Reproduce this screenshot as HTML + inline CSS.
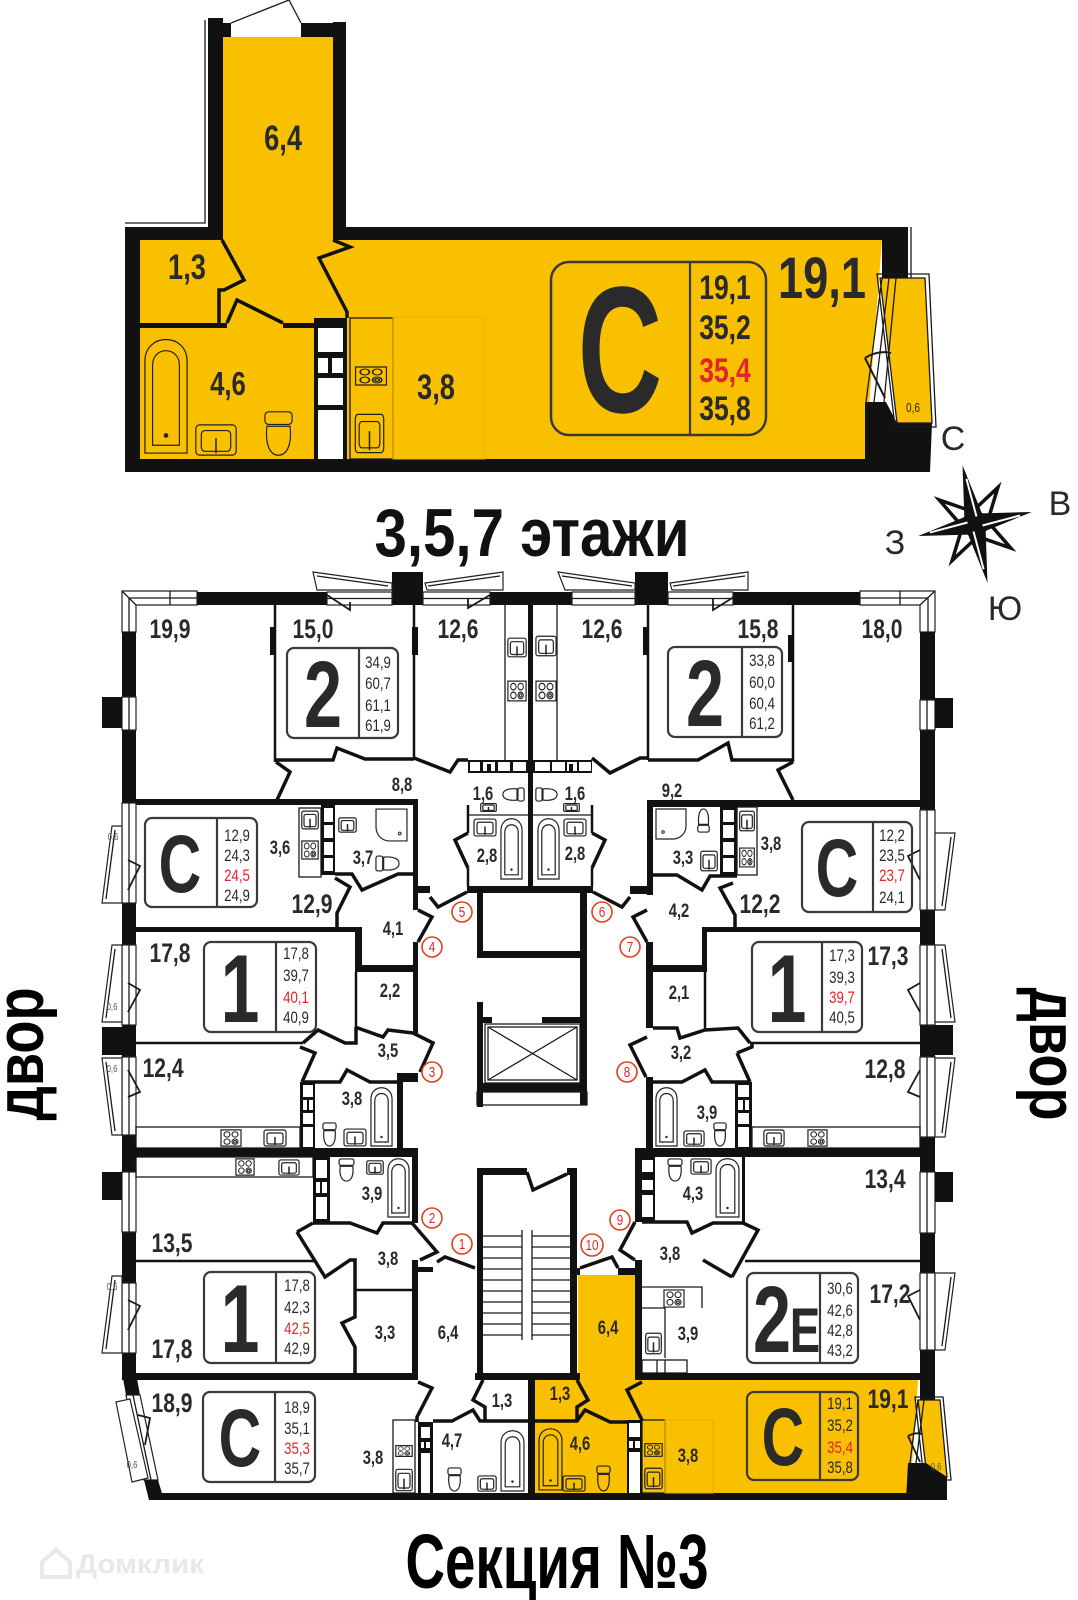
<!DOCTYPE html>
<html><head><meta charset="utf-8">
<style>
html,body{margin:0;padding:0;background:#fff}
svg{display:block}
text{font-family:"Liberation Sans",sans-serif;fill:#2a2a2a;text-anchor:middle;transform-box:fill-box;transform-origin:center;transform:scaleX(.78)}
text.n{transform:none}
.b{font-weight:bold}
text.rd{fill:#e4232b}
.k{fill:#111}
.wh{fill:#fff}
.ln{fill:none;stroke:#1a1a1a;stroke-width:1.3}
.t2{fill:none;stroke:#111;stroke-width:2.5}
.th{fill:none;stroke:#111;stroke-width:3.5;stroke-linejoin:miter}
.y{fill:#f9c000}
.bx{fill:none;stroke:#3a3a3a;stroke-width:2.2}
.c{fill:#fff;stroke:#e0401f;stroke-width:1.6}
.bs{font-size:17px}
.bg{font-size:27px;font-weight:bold}
.sm{font-size:19px;font-weight:bold}
text.cn{fill:#e4232b;font-size:15px}
.wf{fill:#fff;stroke:#222;stroke-width:1.2}
text.z{font-size:10px;fill:#555}
</style></head><body>
<svg width="1078" height="1600" viewBox="0 0 1078 1600" xmlns="http://www.w3.org/2000/svg">
<defs>
<symbol id="tub" viewBox="0 0 24 60" preserveAspectRatio="none"><path d="M1,59V12C1,-3 23,-3 23,12V59Z M5,55V14C5,4 19,4 19,14V55Z" fill="none" stroke="#222" stroke-width="1.2" vector-effect="non-scaling-stroke"/><circle cx="12" cy="50" r="1.2" fill="#222"/></symbol>
<symbol id="snk" viewBox="0 0 24 18" preserveAspectRatio="none"><rect x="1" y="1" width="22" height="16" rx="2" fill="none" stroke="#222" stroke-width="1.2" vector-effect="non-scaling-stroke"/><rect x="4" y="4" width="16" height="11" rx="2" fill="none" stroke="#222" stroke-width="1.2" vector-effect="non-scaling-stroke"/><path d="M12,8V16" stroke="#222" stroke-width="1.5" vector-effect="non-scaling-stroke"/></symbol>
<symbol id="wc" viewBox="0 0 16 26" preserveAspectRatio="none"><rect x="1" y="1" width="14" height="7" rx="2" fill="none" stroke="#222" stroke-width="1.2" vector-effect="non-scaling-stroke"/><path d="M2,9C1,20 4,25 8,25C12,25 15,20 14,9Z" fill="none" stroke="#222" stroke-width="1.2" vector-effect="non-scaling-stroke"/></symbol>
<symbol id="stv" viewBox="0 0 22 20" preserveAspectRatio="none"><rect x="1" y="1" width="20" height="18" fill="none" stroke="#222" stroke-width="1.2" vector-effect="non-scaling-stroke"/><g fill="none" stroke="#222" stroke-width="1.1" vector-effect="non-scaling-stroke"><circle cx="7" cy="6" r="3"/><circle cx="15" cy="6" r="3"/><circle cx="7" cy="14" r="3"/><circle cx="15" cy="14" r="3"/><circle cx="15" cy="14" r="1.4"/></g></symbol>
<symbol id="shw" viewBox="0 0 32 32" preserveAspectRatio="none"><path d="M1,1H31V18A13,13 0 0 1 18,31H1Z" fill="none" stroke="#222" stroke-width="1.2" vector-effect="non-scaling-stroke"/><circle cx="8" cy="24" r="1.3" fill="none" stroke="#222"/></symbol>
</defs>

<!-- ================= TOP APARTMENT ================= -->
<path class="y" d="M223,37H333V240H882L865,459H140V240H223Z"/>
<polygon class="y" points="880,278 925,278 932,423 897,423"/>
<rect class="k" x="208" y="18" width="15" height="222"/>
<rect class="k" x="223" y="23" width="8" height="14"/>
<rect class="k" x="301" y="23" width="32" height="14"/>
<rect class="k" x="333" y="22" width="13" height="218"/>
<path class="ln" d="M205,20V223H125"/>
<rect class="k" x="125" y="227" width="98" height="13"/>
<rect class="k" x="346" y="227" width="562" height="13"/>
<rect class="k" x="882" y="240" width="26" height="38"/>
<path class="ln" d="M911,227V278"/>
<rect class="k" x="125" y="227" width="15" height="245"/>
<rect class="k" x="125" y="459" width="805" height="13"/>
<polygon class="k" points="865,402 886,402 897,423 932,423 930,472 865,472"/>
<path class="ln" d="M882,278L866,402M889,278L874,402M896,278L884,402"/>
<polygon class="ln" points="880,278 925,278 932,423 897,423"/>
<polygon class="ln" points="877,274 929,274 936,427 895,427"/>
<path class="ln" style="stroke-width:2" d="M865,358L885,398M865,358Q878,350 891,353"/>
<path class="ln" d="M231,23L289,0L301,23"/>
<path class="th" d="M222,240L244,280L224,290H219V323"/>
<rect class="k" x="140" y="323" width="87" height="5"/>
<path class="th" d="M227,323L237,300L283,323"/>
<rect class="k" x="283" y="323" width="31" height="5"/>
<path class="th" d="M333,240L350,247L319,258L347,312V318"/>
<rect class="k" x="314" y="318" width="33" height="141"/>
<rect class="wh" x="318" y="328" width="25" height="24"/>
<rect class="wh" x="318" y="358" width="10" height="15"/>
<rect class="wh" x="332" y="358" width="11" height="15"/>
<rect class="wh" x="318" y="378" width="25" height="27"/>
<rect class="wh" x="318" y="410" width="25" height="49"/>
<rect class="ln" x="350" y="318" width="43" height="141"/>
<rect x="393" y="317" width="92" height="142" fill="none" stroke="#e6b400" stroke-width="1"/>
<use href="#stv" x="354" y="366" width="34" height="20"/>
<use href="#snk" x="354" y="412" width="31" height="43"/>
<use href="#tub" x="143" y="338" width="46" height="117"/>
<use href="#snk" x="194" y="423" width="44" height="34"/>
<use href="#wc" x="263" y="410" width="31" height="47"/>
<rect class="bx" x="551" y="262" width="215" height="173" rx="18" style="stroke-width:2.5"/>
<line x1="690" y1="262" x2="690" y2="435" stroke="#3a3a3a" stroke-width="2.2"/>
<text class="b" x="283" y="150" font-size="35">6,4</text>
<text class="b" x="187" y="279" font-size="35">1,3</text>
<text class="b" x="228" y="395" font-size="33">4,6</text>
<text class="b" x="436" y="399" font-size="35">3,8</text>
<text class="b" x="822" y="298" font-size="58">19,1</text>
<text class="b" x="620" y="412" font-size="180" style="transform:scaleX(.65)">С</text>
<text class="b" x="725" y="299" font-size="34">19,1</text>
<text class="b" x="725" y="339" font-size="34">35,2</text>
<text class="b rd" x="725" y="382" font-size="34">35,4</text>
<text class="b" x="725" y="420" font-size="34">35,8</text>
<text x="913" y="412" font-size="13">0,6</text>

<!-- ================= COMPASS & TITLE ================= -->
<g transform="translate(975,524) rotate(-12)">
  <g fill="#fff" stroke="#111" stroke-width="3.5" stroke-linejoin="miter">
    <polygon points="2,-14 30,-31 14,-2"/>
    <polygon points="14,2 30,31 2,14"/>
    <polygon points="-2,14 -30,31 -14,2"/>
    <polygon points="-14,-2 -30,-31 -2,-14"/>
  </g>
  <path d="M0,-60L9,-9L58,0L9,9L0,60L-9,9L-58,0L-9,-9Z" fill="#111"/>
  <path d="M1,-46L3,-7M46,1L7,3M-1,46L-3,7M-46,-1L-7,-3" stroke="#fff" stroke-width="2"/>
</g>
<text class="n" x="953" y="450" font-size="34">С</text>
<text class="n" x="1060" y="515" font-size="34">В</text>
<text class="n" x="895" y="554" font-size="34">З</text>
<text class="n" x="1005" y="620" font-size="34">Ю</text>
<text class="b n" x="532" y="556" font-size="68" textLength="315" lengthAdjust="spacingAndGlyphs" style="fill:#111">3,5,7 этажи</text>

<!-- ================= MAIN PLAN ================= -->
<path class="y" d="M578,1275H635V1380H918L910,1493H535V1380H578Z"/>
<polygon class="y" points="918,1400 940,1400 947,1477 927,1477"/>

<rect class="k" x="197" y="592" width="130" height="13"/>
<rect class="k" x="392" y="572" width="31" height="33"/>
<rect class="k" x="490" y="592" width="82" height="13"/>
<rect class="k" x="635" y="572" width="33" height="33"/>
<rect class="k" x="733" y="592" width="127" height="13"/>
<g class="wf">
<rect x="327" y="592" width="65" height="13"/><rect x="423" y="592" width="67" height="13"/>
<rect x="572" y="592" width="63" height="13"/><rect x="668" y="592" width="65" height="13"/>
</g>
<path class="ln" d="M327,598.5H392M423,598.5H490M572,598.5H635M668,598.5H733"/>
<g class="wf">
<polygon points="313,572 392,583 392,590 317,590"/>
<polygon points="425,583 503,572 503,590 427,590"/>
<polygon points="558,572 635,583 635,590 565,590"/>
<polygon points="670,583 748,572 748,590 672,590"/>
</g>
<path class="ln" d="M317,576L388,586M428,586L500,576M562,576L632,586M673,586L745,576"/>
<path class="ln" style="stroke-width:1.8" d="M327,595L350,610V602M490,595L468,608V598M737,595L713,610V598"/>
<path class="wf" d="M122,632V591H197V605H136V632Z"/>
<path class="ln" d="M129,632V598H197M122,591L136,605M170,591V605"/>
<path class="wf" d="M860,591H935V632H920V605H860Z"/>
<path class="ln" d="M860,598H928V632M935,591L920,605M900,591V605"/>

<rect class="k" x="122" y="632" width="14" height="748"/>
<g class="wf">
<rect x="122" y="697" width="14" height="33"/><rect x="122" y="803" width="14" height="100"/>
<rect x="122" y="945" width="14" height="80"/><rect x="122" y="1057" width="14" height="78"/>
<rect x="122" y="1172" width="14" height="60"/><rect x="122" y="1283" width="14" height="70"/>
</g>
<path class="ln" d="M129,697V730M129,803V903M129,945V1025M129,1057V1135M129,1172V1232M129,1283V1353"/>
<rect class="k" x="102" y="697" width="20" height="31"/>
<rect class="k" x="102" y="1027" width="20" height="28"/>
<rect class="k" x="102" y="1172" width="20" height="28"/>
<g class="wf">
<polygon points="112,826 122,826 122,903 102,903"/>
<polygon points="112,945 122,945 122,1022 102,1022"/>
<polygon points="102,1058 122,1058 122,1135 112,1135"/>
<polygon points="112,1276 122,1276 122,1353 102,1353"/>
</g>
<path class="ln" d="M115,830L106,899M115,949L106,1018M106,1062L115,1131M115,1280L106,1349"/>
<text class="z" x="113" y="840">0,6</text><text class="z" x="112" y="1010">0,6</text>
<text class="z" x="112" y="1072">0,6</text><text class="z" x="112" y="1290">0,6</text>
<path class="ln" style="stroke-width:1.8" d="M128,860L140,866L128,890M128,983L140,990L128,1012M128,1070L140,1092L128,1097M128,1300L140,1306L128,1330"/>
<polygon class="k" points="122,1373 136,1373 140,1395 126,1395"/>
<polygon class="wf" points="126,1395 140,1395 158,1480 144,1480"/>
<path class="ln" d="M133,1395L151,1480"/>
<polygon class="k" points="144,1480 158,1480 164,1500 149,1500"/>
<polygon class="wf" points="116,1402 130,1399 148,1478 132,1482"/>
<text class="z" x="132" y="1468">0,6</text>
<path class="ln" style="stroke-width:1.8" d="M138,1415L150,1418L145,1445"/>

<rect class="k" x="920" y="632" width="15" height="768"/>
<g class="wf">
<rect x="920" y="700" width="15" height="30"/><rect x="920" y="810" width="15" height="100"/>
<rect x="920" y="945" width="15" height="80"/><rect x="920" y="1057" width="15" height="80"/>
<rect x="920" y="1172" width="15" height="61"/><rect x="920" y="1273" width="15" height="77"/>
</g>
<path class="ln" d="M927,700V730M927,810V910M927,945V1025M927,1057V1137M927,1172V1233M927,1273V1350"/>
<rect class="k" x="935" y="698" width="18" height="30"/>
<rect class="k" x="935" y="1025" width="18" height="30"/>
<rect class="k" x="935" y="1172" width="18" height="30"/>
<g class="wf">
<polygon points="935,833 955,833 945,910 935,910"/>
<polygon points="935,945 945,945 955,1022 935,1022"/>
<polygon points="935,1058 955,1058 945,1137 935,1137"/>
<polygon points="935,1273 955,1273 945,1350 935,1350"/>
</g>
<path class="ln" d="M951,837L942,906M942,949L951,1018M951,1062L942,1133M951,1277L942,1346"/>
<path class="ln" style="stroke-width:1.8" d="M920,850L908,856L920,880M920,983L908,990L920,1012M920,1070L908,1092L920,1097M920,1290L908,1296L920,1320"/>
<path class="ln" d="M918,1400L910,1463M924,1400L916,1463"/>
<polygon class="ln" points="918,1400 940,1400 947,1477 927,1477"/>
<polygon class="ln" points="915,1397 943,1397 951,1480 924,1480"/>
<polygon class="k" points="908,1463 926,1463 947,1477 947,1500 906,1500"/>
<text class="z" x="936" y="1470">0,6</text>
<path class="ln" style="stroke-width:1.8" d="M908,1436L920,1462M908,1436Q915,1432 922,1434"/>
<rect class="k" x="150" y="1493" width="760" height="7"/>

<!-- core -->
<rect class="k" x="528" y="592" width="5" height="301"/>
<rect class="k" x="418" y="886" width="12" height="7"/>
<rect class="k" x="467" y="886" width="126" height="7"/>
<rect class="k" x="630" y="886" width="23" height="8"/>
<rect class="k" x="477" y="893" width="6" height="65"/>
<rect class="k" x="477" y="951" width="110" height="7"/>
<rect class="k" x="580" y="893" width="7" height="212"/>
<rect class="k" x="477" y="1002" width="6" height="105"/>
<rect class="k" x="477" y="1017" width="15" height="6"/>
<rect class="k" x="542" y="1017" width="45" height="6"/>
<rect class="k" x="477" y="1083" width="110" height="9"/>
<rect class="ln" x="477" y="1092" width="110" height="13"/>
<rect class="ln" x="485" y="1024" width="95" height="59"/>
<rect class="ln" x="488" y="1027" width="89" height="53"/>
<path class="ln" d="M488,1027L577,1080M577,1027L488,1080"/>
<rect class="k" x="477" y="1168" width="50" height="7"/>
<rect class="k" x="567" y="1168" width="10" height="7"/>
<rect class="k" x="477" y="1168" width="6" height="212"/>
<rect class="k" x="570" y="1168" width="7" height="212"/>
<rect class="k" x="475" y="1373" width="105" height="7"/>
<path class="th" d="M527,1172L533,1190L567,1174"/>
<path class="ln" d="M483,1236H522M483,1247H522M483,1258H522M483,1269H522M483,1280H522M483,1291H522M483,1302H522M483,1313H522M483,1324H522M483,1335H522M532,1236H570M532,1247H570M532,1258H570M532,1269H570M532,1280H570M532,1291H570M532,1302H570M532,1313H570M532,1324H570M532,1335H570M522,1230V1340M532,1230V1340"/>

<!-- left half -->
<line x1="275" y1="605" x2="275" y2="762" stroke="#111" stroke-width="2.5"/>
<rect class="k" x="270" y="627" width="6" height="28"/>
<line x1="414" y1="605" x2="414" y2="760" stroke="#111" stroke-width="2.5"/>
<rect class="k" x="412" y="627" width="6" height="28"/>
<path class="th" d="M275,760H333L337,748L365,759H414"/>
<path class="th" d="M276,762L290,772L277,800"/>
<path class="th" d="M414,758L450,772L458,760H468"/>
<line x1="505" y1="605" x2="505" y2="760" class="ln"/>
<use href="#snk" x="507" y="637" width="20" height="21"/>
<use href="#stv" x="507" y="680" width="20" height="22"/>
<rect class="k" x="468" y="760" width="60" height="13"/>
<g class="wh"><rect x="470" y="762" width="10" height="9"/><rect x="483" y="762" width="12" height="9"/><rect x="498" y="762" width="12" height="9"/><rect x="513" y="762" width="13" height="9"/></g>
<rect class="k" x="487" y="764" width="4" height="7"/>
<use href="#wc" x="0" y="0" width="15" height="23" transform="translate(525,787) rotate(90)"/>
<use href="#snk" x="480" y="803" width="17" height="9"/>
<line x1="468" y1="815" x2="528" y2="815" class="ln"/>
<path class="t2" d="M468,805V833M468,868V886"/>
<path class="th" d="M468,833L455,840L468,868"/>
<use href="#snk" x="473" y="818" width="24" height="19"/>
<use href="#tub" x="500" y="818" width="23" height="62"/>
<rect class="k" x="136" y="799" width="282" height="6"/>
<rect class="k" x="413" y="799" width="5" height="111"/>
<rect class="k" x="413" y="942" width="5" height="91"/>
<rect class="ln" x="299" y="808" width="22" height="69"/>
<use href="#snk" x="301" y="810" width="18" height="20"/>
<use href="#stv" x="301" y="840" width="18" height="20"/>
<rect class="k" x="321" y="805" width="14" height="70"/>
<g class="wh"><rect x="324" y="808" width="9" height="14"/><rect x="324" y="825" width="9" height="13"/><rect x="324" y="842" width="9" height="13"/><rect x="324" y="858" width="9" height="13"/></g>
<path class="th" d="M335,874H352L362,890L398,874H418"/>
<use href="#snk" x="338" y="817" width="19" height="16"/>
<use href="#shw" x="375" y="808" width="33" height="34" transform="translate(783,0) scale(-1,1)"/>
<use href="#wc" x="0" y="0" width="17" height="25" transform="translate(375,872) rotate(-90)"/>
<path class="th" d="M335,878L350,887L337,913V927"/>
<path class="th" d="M418,910L432,917L418,942"/>
<path class="th" d="M467,892L438,907L430,897"/>
<rect class="k" x="136" y="927" width="226" height="5"/>
<rect class="k" x="355" y="927" width="7" height="45"/>
<rect class="k" x="355" y="965" width="63" height="7"/>
<line x1="356" y1="972" x2="356" y2="1027" stroke="#111" stroke-width="2.5"/>
<path class="th" d="M355,1027L383,1037L388,1030L413,1033"/>
<line x1="136" y1="1043" x2="303" y2="1043" stroke="#111" stroke-width="2.5"/>
<path class="th" d="M303,1043L318,1030L345,1043H356V1027"/>
<path class="th" d="M413,1033L433,1043L420,1072"/>
<path class="th" d="M300,1047L315,1053L302,1082"/>
<path class="th" d="M302,1082H340L347,1070L370,1082H397"/>
<rect class="k" x="397" y="1073" width="21" height="9"/>
<rect class="k" x="397" y="1073" width="6" height="75"/>
<rect class="k" x="300" y="1082" width="15" height="66"/>
<g class="wh"><rect x="303" y="1085" width="10" height="12"/><rect x="303" y="1100" width="4" height="10"/><rect x="309" y="1100" width="4" height="10"/><rect x="303" y="1113" width="10" height="11"/><rect x="303" y="1127" width="10" height="20"/></g>
<use href="#tub" x="370" y="1087" width="23" height="60"/>
<use href="#wc" x="322" y="1122" width="15" height="25"/>
<use href="#snk" x="343" y="1128" width="24" height="19"/>
<rect class="ln" x="136" y="1127" width="164" height="21"/>
<use href="#stv" x="220" y="1129" width="22" height="18"/>
<use href="#snk" x="263" y="1129" width="24" height="18"/>
<rect class="k" x="122" y="1148" width="296" height="9"/>
<rect class="ln" x="136" y="1157" width="177" height="20"/>
<use href="#stv" x="235" y="1158" width="20" height="18"/>
<use href="#snk" x="278" y="1159" width="22" height="17"/>
<rect class="k" x="313" y="1157" width="17" height="66"/>
<g class="wh"><rect x="316" y="1160" width="11" height="18"/><rect x="316" y="1182" width="4" height="11"/><rect x="322" y="1182" width="5" height="11"/><rect x="316" y="1197" width="11" height="22"/></g>
<use href="#wc" x="338" y="1158" width="17" height="24"/>
<use href="#snk" x="366" y="1160" width="18" height="15"/>
<use href="#tub" x="387" y="1158" width="23" height="60"/>
<rect class="k" x="412" y="1148" width="6" height="75"/>
<path class="th" d="M313,1223H350L377,1233L383,1223H412"/>
<line x1="136" y1="1261" x2="315" y2="1261" stroke="#111" stroke-width="2.5"/>
<path class="th" d="M297,1232L313,1223M297,1232L325,1277L350,1260H355V1290"/>
<path class="th" d="M412,1223L437,1252L420,1260"/>
<rect class="k" x="412" y="1260" width="6" height="120"/>
<rect class="k" x="418" y="1267" width="15" height="5"/>
<path class="th" d="M437,1262L445,1257L475,1268"/>
<line x1="355" y1="1290" x2="412" y2="1290" class="t2"/>
<path class="th" d="M355,1290V1317L342,1323L355,1347V1373"/>
<rect class="k" x="122" y="1373" width="296" height="7"/>
<path class="th" d="M418,1382L432,1388L417,1417V1422"/>
<rect class="ln" x="393" y="1420" width="22" height="73"/>
<use href="#stv" x="395" y="1445" width="18" height="12"/>
<use href="#snk" x="395" y="1468" width="18" height="24"/>
<rect class="k" x="418" y="1422" width="15" height="71"/>
<g class="wh"><rect x="421" y="1427" width="9" height="11"/><rect x="421" y="1442" width="3" height="6"/><rect x="426" y="1442" width="4" height="6"/><rect x="421" y="1453" width="9" height="40"/></g>
<path class="th" d="M433,1421H452L473,1410L480,1421H528"/>
<path class="th" d="M483,1380L473,1400L485,1407V1421"/>
<rect class="k" x="528" y="1380" width="7" height="120"/>
<use href="#wc" x="447" y="1467" width="15" height="25"/>
<use href="#snk" x="477" y="1475" width="20" height="17"/>
<use href="#tub" x="500" y="1430" width="25" height="62"/>

<!-- right half -->
<line x1="557" y1="605" x2="557" y2="760" class="ln"/>
<use href="#snk" x="535" y="635" width="22" height="22"/>
<use href="#stv" x="535" y="680" width="22" height="22"/>
<line x1="648" y1="605" x2="648" y2="760" stroke="#111" stroke-width="2.5"/>
<rect class="k" x="643" y="627" width="6" height="28"/>
<line x1="793" y1="605" x2="793" y2="762" stroke="#111" stroke-width="2.5"/>
<rect class="k" x="788" y="635" width="6" height="27"/>
<rect class="k" x="533" y="760" width="59" height="13"/>
<g class="wh"><rect x="535" y="762" width="15" height="9"/><rect x="552" y="762" width="13" height="9"/><rect x="567" y="762" width="10" height="9"/><rect x="579" y="762" width="12" height="9"/></g>
<rect class="k" x="569" y="764" width="4" height="7"/>
<path class="th" d="M592,758L610,773L640,758H648"/>
<path class="th" d="M648,760H698L728,743L732,760H793"/>
<path class="th" d="M793,762L778,770L793,800"/>
<use href="#wc" x="0" y="0" width="15" height="23" transform="translate(535,802) rotate(-90)"/>
<use href="#snk" x="563" y="803" width="17" height="9"/>
<line x1="533" y1="815" x2="592" y2="815" class="ln"/>
<path class="t2" d="M592,805V833M592,868V886"/>
<path class="th" d="M592,833L605,840L592,868"/>
<use href="#snk" x="563" y="818" width="24" height="19"/>
<use href="#tub" x="537" y="818" width="23" height="62"/>
<path class="th" d="M593,892L622,907L630,897"/>
<rect class="k" x="647" y="800" width="273" height="7"/>
<rect class="k" x="647" y="800" width="6" height="95"/>
<use href="#shw" x="655" y="808" width="32" height="32"/>
<use href="#wc" x="697" y="808" width="13" height="25" transform="rotate(180 703.5 820.5)"/>
<use href="#snk" x="700" y="850" width="18" height="22"/>
<path class="th" d="M653,875H677L702,890L710,876H737"/>
<rect class="k" x="720" y="807" width="17" height="68"/>
<g class="wh"><rect x="723" y="810" width="11" height="12"/><rect x="723" y="825" width="11" height="13"/><rect x="723" y="842" width="11" height="13"/><rect x="723" y="858" width="11" height="14"/></g>
<rect class="ln" x="737" y="807" width="20" height="68"/>
<use href="#snk" x="739" y="810" width="16" height="22"/>
<use href="#stv" x="739" y="847" width="16" height="21"/>
<path class="th" d="M733,883L720,888L735,915V927"/>
<path class="th" d="M647,910L633,917L647,942"/>
<rect class="k" x="646" y="942" width="7" height="86"/>
<rect class="k" x="702" y="927" width="218" height="5"/>
<rect class="k" x="702" y="927" width="5" height="45"/>
<rect class="k" x="652" y="965" width="55" height="7"/>
<line x1="705" y1="972" x2="705" y2="1030" stroke="#111" stroke-width="2.5"/>
<path class="th" d="M653,1028H677L680,1038L705,1030L738,1028L750,1043"/>
<line x1="750" y1="1043" x2="920" y2="1043" stroke="#111" stroke-width="2.5"/>
<path class="th" d="M647,1037L630,1045L646,1077"/>
<path class="th" d="M737,1053L752,1047V1043M737,1053L750,1082"/>
<path class="th" d="M653,1082H682L705,1070L712,1082H750"/>
<rect class="k" x="646" y="1077" width="7" height="71"/>
<rect class="k" x="735" y="1082" width="17" height="66"/>
<g class="wh"><rect x="738" y="1085" width="11" height="12"/><rect x="738" y="1100" width="5" height="10"/><rect x="745" y="1100" width="4" height="10"/><rect x="738" y="1113" width="11" height="11"/><rect x="738" y="1127" width="11" height="20"/></g>
<use href="#tub" x="655" y="1087" width="23" height="60"/>
<use href="#snk" x="683" y="1130" width="22" height="17"/>
<use href="#wc" x="713" y="1122" width="14" height="25"/>
<rect class="ln" x="752" y="1127" width="168" height="21"/>
<use href="#snk" x="763" y="1129" width="22" height="18"/>
<use href="#stv" x="807" y="1129" width="21" height="18"/>
<rect class="k" x="635" y="1148" width="285" height="9"/>
<rect class="k" x="635" y="1157" width="20" height="65"/>
<g class="wh"><rect x="642" y="1160" width="11" height="12"/><rect x="642" y="1180" width="11" height="10"/><rect x="642" y="1195" width="11" height="22"/></g>
<use href="#wc" x="667" y="1158" width="16" height="24"/>
<use href="#snk" x="690" y="1158" width="22" height="17"/>
<use href="#tub" x="715" y="1158" width="25" height="60"/>
<rect class="k" x="742" y="1157" width="3" height="66"/>
<path class="th" d="M642,1222H687L692,1233L713,1223H743L758,1230L732,1277M703,1260L732,1277"/>
<path class="th" d="M635,1222L620,1250L635,1260"/>
<rect class="k" x="635" y="1260" width="7" height="120"/>
<line x1="745" y1="1261" x2="920" y2="1261" stroke="#111" stroke-width="2.5"/>
<path class="ln" d="M642,1287H702V1308M642,1308H665V1358"/>
<use href="#stv" x="663" y="1289" width="22" height="19"/>
<use href="#snk" x="645" y="1332" width="17" height="23"/>
<rect class="ln" x="642" y="1360" width="45" height="13"/>
<path class="ln" d="M657,1360V1373M665,1360V1373"/>
<rect class="k" x="635" y="1373" width="285" height="7"/>
<rect class="k" x="575" y="1268" width="5" height="7"/>
<rect class="k" x="618" y="1268" width="17" height="7"/>
<path class="th" d="M580,1268L612,1257L618,1268"/>
<path class="th" d="M577,1380L588,1400L577,1407V1421"/>
<path class="th" d="M535,1421H577L585,1410L610,1422H627"/>
<path class="th" d="M642,1382L627,1390L642,1420"/>
<rect class="k" x="627" y="1420" width="15" height="73"/>
<g class="wh"><rect x="629" y="1423" width="11" height="14"/><rect x="629" y="1441" width="4" height="7"/><rect x="635" y="1441" width="5" height="7"/><rect x="629" y="1452" width="11" height="41"/></g>
<rect class="ln" x="642" y="1420" width="23" height="73"/>
<use href="#stv" x="644" y="1443" width="19" height="14"/>
<use href="#snk" x="644" y="1467" width="19" height="23"/>
<rect x="665" y="1420" width="48" height="73" fill="none" stroke="#e2ad00" stroke-width="1"/>
<use href="#tub" x="538" y="1428" width="25" height="63"/>
<use href="#snk" x="562" y="1475" width="24" height="17"/>
<use href="#wc" x="596" y="1465" width="15" height="27"/>

<!-- boxes -->
<g class="bx">
<rect x="287" y="648" width="111" height="90" rx="7"/><path d="M359,648V738"/>
<rect x="668" y="647" width="114" height="90" rx="7"/><path d="M742,647V737"/>
<rect x="145" y="818" width="112" height="89" rx="7"/><path d="M217,818V907"/>
<rect x="802" y="822" width="110" height="90" rx="7"/><path d="M873,822V912"/>
<rect x="204" y="942" width="112" height="90" rx="7"/><path d="M276,942V1032"/>
<rect x="752" y="942" width="110" height="90" rx="7"/><path d="M822,942V1032"/>
<rect x="204" y="1272" width="111" height="91" rx="7"/><path d="M276,1272V1363"/>
<rect x="747" y="1273" width="111" height="90" rx="7"/><path d="M820,1273V1363"/>
<rect x="203" y="1392" width="112" height="90" rx="7"/><path d="M275,1392V1482"/>
<rect x="747" y="1392" width="111" height="88" rx="7"/><path d="M820,1392V1480"/>
</g>
<g class="b">
<text x="323" y="727" font-size="95" style="transform:scaleX(.72)">2</text>
<text x="705" y="726" font-size="95" style="transform:scaleX(.72)">2</text>
<text x="180" y="892" font-size="82" style="transform:scaleX(.72)">С</text>
<text x="837" y="896" font-size="82" style="transform:scaleX(.72)">С</text>
<text x="240" y="1022" font-size="97" style="transform:scaleX(.72)">1</text>
<text x="787" y="1022" font-size="97" style="transform:scaleX(.72)">1</text>
<text x="240" y="1352" font-size="97" style="transform:scaleX(.72)">1</text>
<text x="772" y="1352" font-size="95" style="transform:scaleX(.72)">2</text>
<text x="805" y="1352" font-size="63" style="transform:scaleX(.72)">Е</text>
<text x="240" y="1466" font-size="82" style="transform:scaleX(.72)">С</text>
<text x="783" y="1465" font-size="82" style="transform:scaleX(.72)">С</text>
</g>
<g class="bs">
<text x="378" y="668">34,9</text><text x="378" y="689">60,7</text><text x="378" y="711">61,1</text><text x="378" y="731">61,9</text>
<text x="762" y="666">33,8</text><text x="762" y="688">60,0</text><text x="762" y="709">60,4</text><text x="762" y="729">61,2</text>
<text x="237" y="841">12,9</text><text x="237" y="861">24,3</text><text x="237" y="881" class="rd">24,5</text><text x="237" y="901">24,9</text>
<text x="892" y="841">12,2</text><text x="892" y="861">23,5</text><text x="892" y="881" class="rd">23,7</text><text x="892" y="903">24,1</text>
<text x="296" y="959">17,8</text><text x="296" y="981">39,7</text><text x="296" y="1003" class="rd">40,1</text><text x="296" y="1023">40,9</text>
<text x="842" y="961">17,3</text><text x="842" y="983">39,3</text><text x="842" y="1003" class="rd">39,7</text><text x="842" y="1023">40,5</text>
<text x="297" y="1291">17,8</text><text x="297" y="1313">42,3</text><text x="297" y="1334" class="rd">42,5</text><text x="297" y="1354">42,9</text>
<text x="840" y="1294">30,6</text><text x="840" y="1316">42,6</text><text x="840" y="1336">42,8</text><text x="840" y="1356">43,2</text>
<text x="297" y="1413">18,9</text><text x="297" y="1434">35,1</text><text x="297" y="1454" class="rd">35,3</text><text x="297" y="1474">35,7</text>
<text x="840" y="1409">19,1</text><text x="840" y="1431">35,2</text><text x="840" y="1453" class="rd">35,4</text><text x="840" y="1473">35,8</text>
</g>
<g class="bg">
<text x="170" y="638">19,9</text><text x="313" y="638">15,0</text><text x="458" y="638">12,6</text>
<text x="602" y="638">12,6</text><text x="758" y="638">15,8</text><text x="882" y="638">18,0</text>
<text x="312" y="913">12,9</text><text x="760" y="913">12,2</text>
<text x="170" y="962">17,8</text><text x="888" y="965">17,3</text>
<text x="163" y="1077">12,4</text><text x="885" y="1078">12,8</text>
<text x="172" y="1252">13,5</text><text x="885" y="1188">13,4</text>
<text x="890" y="1303">17,2</text><text x="172" y="1358">17,8</text>
<text x="172" y="1412">18,9</text><text x="888" y="1408">19,1</text>
</g>
<g class="sm">
<text x="402" y="791">8,8</text><text x="672" y="797">9,2</text>
<text x="483" y="800">1,6</text><text x="575" y="800">1,6</text>
<text x="487" y="862">2,8</text><text x="575" y="860">2,8</text>
<text x="280" y="854">3,6</text><text x="363" y="864">3,7</text><text x="683" y="864">3,3</text><text x="771" y="850">3,8</text>
<text x="393" y="935">4,1</text><text x="679" y="917">4,2</text>
<text x="390" y="997">2,2</text><text x="679" y="999">2,1</text>
<text x="388" y="1057">3,5</text><text x="681" y="1059">3,2</text>
<text x="352" y="1105">3,8</text><text x="707" y="1119">3,9</text>
<text x="372" y="1200">3,9</text><text x="693" y="1200">4,3</text>
<text x="388" y="1265">3,8</text><text x="670" y="1260">3,8</text>
<text x="385" y="1339">3,3</text><text x="448" y="1339">6,4</text><text x="608" y="1334">6,4</text><text x="688" y="1340">3,9</text>
<text x="502" y="1407">1,3</text><text x="560" y="1400">1,3</text>
<text x="452" y="1447">4,7</text><text x="580" y="1450">4,6</text>
<text x="373" y="1464">3,8</text><text x="688" y="1462">3,8</text>
</g>
<g>
<circle class="c" cx="462" cy="1244" r="10"/><circle class="c" cx="432" cy="1218" r="10"/>
<circle class="c" cx="432" cy="1072" r="10"/><circle class="c" cx="432" cy="947" r="10"/>
<circle class="c" cx="462" cy="912" r="10"/><circle class="c" cx="602" cy="912" r="10"/>
<circle class="c" cx="630" cy="947" r="10"/><circle class="c" cx="627" cy="1072" r="10"/>
<circle class="c" cx="620" cy="1220" r="10"/><circle class="c" cx="592" cy="1245" r="11"/>
<text class="cn" x="462" y="1249">1</text><text class="cn" x="432" y="1223">2</text>
<text class="cn" x="432" y="1077">3</text><text class="cn" x="432" y="952">4</text>
<text class="cn" x="462" y="917">5</text><text class="cn" x="602" y="917">6</text>
<text class="cn" x="630" y="952">7</text><text class="cn" x="627" y="1077">8</text>
<text class="cn" x="620" y="1225">9</text><text class="cn" x="592" y="1250">10</text>
</g>

<g transform="translate(43,1054) rotate(-90)"><text class="b n" x="0" y="0" font-size="68" textLength="133" lengthAdjust="spacingAndGlyphs" style="fill:#000">двор</text></g>
<g transform="translate(1030,1054) rotate(90)"><text class="b n" x="0" y="0" font-size="68" textLength="133" lengthAdjust="spacingAndGlyphs" style="fill:#000">двор</text></g>

<text class="b n" x="557" y="1588" font-size="77" textLength="303" lengthAdjust="spacingAndGlyphs" style="fill:#000">Секция №3</text>
<path d="M42,1562L56,1550L70,1562V1577H42Z" fill="none" stroke="#e8e8e8" stroke-width="4"/>
<text class="b n" x="140" y="1573" font-size="27" textLength="128" lengthAdjust="spacingAndGlyphs" style="fill:#e8e8e8">Домклик</text>
</svg>
</body></html>
